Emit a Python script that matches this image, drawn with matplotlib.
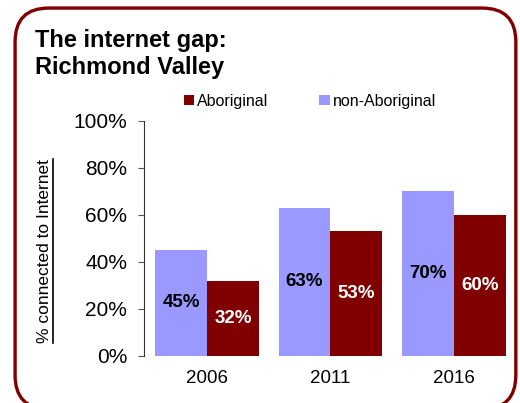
import numpy as np
import matplotlib.pyplot as plt
from matplotlib.patches import FancyBboxPatch
from matplotlib.lines import Line2D

plt.rcParams['font.family'] = ['Liberation Sans', 'DejaVu Sans']

years = ['2006', '2011', '2016']
aboriginal = [32, 53, 60]
non_aboriginal = [45, 63, 70]

c_ab = '#800000'
c_non = '#9999FF'

fig = plt.figure(figsize=(5.20, 4.03), dpi=100)
ax = fig.add_axes([0.277, 0.117, 0.717, 0.583])

x = np.arange(len(years))
w = 0.42
b1 = ax.bar(x - w / 2, non_aboriginal, w, color=c_non, label='non-Aboriginal')
b2 = ax.bar(x + w / 2, aboriginal, w, color=c_ab, label='Aboriginal')

for r, v in zip(b1, non_aboriginal):
    ax.text(r.get_x() + r.get_width() / 2, v / 2, f'{v}%', ha='center', va='center',
            fontsize=13.5, fontweight='bold', color='black')
for r, v in zip(b2, aboriginal):
    ax.text(r.get_x() + r.get_width() / 2, v / 2, f'{v}%', ha='center', va='center',
            fontsize=13.5, fontweight='bold', color='white')

ax.set_xlim(-0.51, 2.51)
ax.set_ylim(0, 100)
ax.set_yticks(range(0, 101, 20))
ax.set_yticklabels([f'{t}%' for t in range(0, 101, 20)])
ax.set_xticks(x)
ax.set_xticklabels(years)
ax.tick_params(axis='y', labelsize=15, length=4, color='#555555', pad=8)
ax.tick_params(axis='x', labelsize=13.5, length=0, pad=10)
for s in ['top', 'right', 'bottom']:
    ax.spines[s].set_visible(False)
ax.spines['left'].set_color('#333333')
ax.patch.set_alpha(0)

# title
fig.text(0.067, 0.928, 'The internet gap:\nRichmond Valley', ha='left', va='top',
         fontsize=17, fontweight='bold', linespacing=1.2)

# legend (Aboriginal first)
fig.legend([b2, b1], ['Aboriginal', 'non-Aboriginal'], loc='center',
           bbox_to_anchor=(0.596, 0.749), ncol=2, frameon=False, fontsize=11.5,
           handlelength=0.65, handleheight=0.65, handletextpad=0.2,
           columnspacing=3.2, borderaxespad=0)

# underlined y label
yl = fig.text(0.0865, 0.377, '% connected to Internet', rotation=90,
              ha='center', va='center', fontsize=12.5)
fig.canvas.draw()
bb = yl.get_window_extent().transformed(fig.transFigure.inverted())
fig.add_artist(Line2D([bb.x1 + 0.001, bb.x1 + 0.001], [bb.y0, bb.y1],
                      transform=fig.transFigure, color='black', lw=1.2))

# rounded border
border = FancyBboxPatch((0.029, -0.015), 0.963, 0.995,
                        boxstyle='round,pad=0,rounding_size=0.065',
                        transform=fig.transFigure, facecolor='none',
                        edgecolor=c_ab, lw=2.4, mutation_aspect=520 / 403)
fig.add_artist(border)

fig.savefig('out.png', dpi=100)
